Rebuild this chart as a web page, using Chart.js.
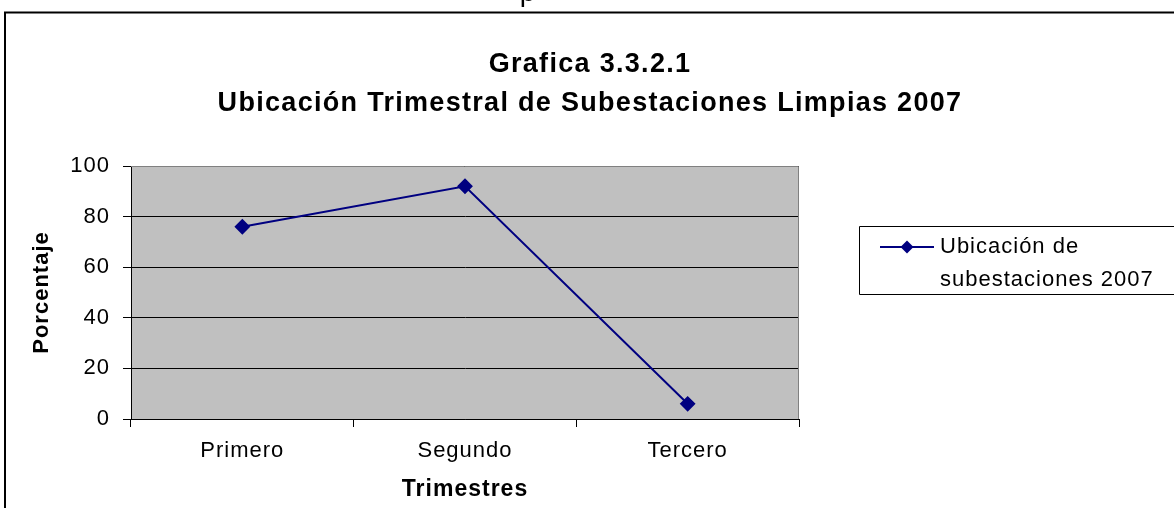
<!DOCTYPE html>
<html>
<head>
<meta charset="utf-8">
<script src="https://cdn.jsdelivr.net/npm/chart.js@4"></script>
<style>
  html, body { margin: 0; padding: 0; background: #fff; }
  #wrap { width: 1174px; height: 508px; position: relative; }
</style>
</head>
<body>
<div id="wrap"><canvas id="chart" width="1174" height="508"></canvas></div>
<script>
const categories = ['Primero', 'Segundo', 'Tercero'];
const values = [76, 92, 6];
const seriesName = ['Ubicación de', 'subestaciones 2007'];
const titleLines = ['Grafica 3.3.2.1', 'Ubicación Trimestral de Subestaciones Limpias 2007'];

const FONT = 'Arial, "Liberation Sans", sans-serif';
const NAVY = '#000080';

// the old chart text is drawn a little wider than Liberation Sans
const spacing = {
  id: 'spacing',
  beforeLayout(chart) { chart.ctx.letterSpacing = '1px'; },
  beforeDraw(chart) { chart.ctx.letterSpacing = '1px'; }
};

// frame, plot background, titles, legend
const decor = {
  id: 'decor',
  beforeDraw(chart) {
    const { ctx, chartArea: a } = chart;
    ctx.save();
    ctx.fillStyle = '#c0c0c0';
    ctx.fillRect(a.left, a.top, a.right - a.left, a.bottom - a.top);
    // outer frame
    ctx.strokeStyle = '#000';
    ctx.lineWidth = 2;
    ctx.beginPath();
    ctx.moveTo(5, 510);
    ctx.lineTo(5, 12.5);
    ctx.lineTo(1180, 12.5);
    ctx.stroke();
    // cut text at top
    ctx.fillStyle = '#000';
    ctx.font = '28px ' + FONT;
    ctx.textAlign = 'center';
    ctx.fillText('p', 528, 1);
    // title
    ctx.letterSpacing = '1.3px';
    ctx.font = 'bold 27px ' + FONT;
    ctx.textBaseline = 'alphabetic';
    ctx.fillText(titleLines[0], 590, 72);
    ctx.fillText(titleLines[1], 590, 111);
    ctx.restore();
  },
  afterDatasetsDraw(chart) {
    const { ctx, chartArea: a } = chart;
    ctx.save();
    // plot border (gray, top/right)
    ctx.strokeStyle = '#808080';
    ctx.lineWidth = 1;
    ctx.beginPath();
    ctx.moveTo(a.left, a.top + 0.5);
    ctx.lineTo(a.right - 0.5, a.top + 0.5);
    ctx.lineTo(a.right - 0.5, a.bottom);
    ctx.stroke();
    // legend
    const lx = 859.5, ly = 226.5;
    ctx.strokeStyle = '#000';
    ctx.beginPath();
    ctx.moveTo(1180, ly);
    ctx.lineTo(lx, ly);
    ctx.lineTo(lx, 294.5);
    ctx.lineTo(1180, 294.5);
    ctx.stroke();
    ctx.strokeStyle = NAVY;
    ctx.lineWidth = 2;
    ctx.beginPath();
    ctx.moveTo(880, 247);
    ctx.lineTo(934, 247);
    ctx.stroke();
    ctx.fillStyle = NAVY;
    ctx.beginPath();
    ctx.moveTo(907, 240.5);
    ctx.lineTo(913.5, 247);
    ctx.lineTo(907, 253.5);
    ctx.lineTo(900.5, 247);
    ctx.closePath();
    ctx.fill();
    ctx.fillStyle = '#000';
    ctx.font = '22px ' + FONT;
    ctx.textAlign = 'left';
    ctx.textBaseline = 'middle';
    ctx.fillText(seriesName[0], 940, 247);
    ctx.fillText(seriesName[1], 940, 280);
    ctx.restore();
  }
};

new Chart(document.getElementById('chart'), {
  type: 'line',
  data: {
    labels: categories,
    datasets: [{
      label: seriesName.join(' '),
      data: values,
      borderColor: NAVY,
      backgroundColor: NAVY,
      borderWidth: 2,
      pointStyle: 'rectRot',
      pointRadius: 6.5,
      pointHoverRadius: 6.5,
      tension: 0
    }]
  },
  options: {
    responsive: false,
    animation: false,
    layout: { padding: { left: 8, right: 375, top: 166, bottom: 0 } },
    plugins: {
      legend: { display: false },
      tooltip: { enabled: false },
      title: { display: false }
    },
    scales: {
      x: {
        offset: true,
        grid: { offset: true, color: '#000', drawOnChartArea: false, tickLength: 8, tickColor: '#000' },
        border: { color: '#000', width: 1 },
        ticks: { color: '#000', font: { family: FONT, size: 22 }, padding: 11 },
        title: { display: true, text: 'Trimestres', color: '#000', font: { family: FONT, size: 23, weight: 'bold' }, padding: { top: 2, bottom: 5 } },
        afterFit(s) { s.height = 89; }
      },
      y: {
        min: 0,
        max: 100,
        ticks: { stepSize: 20, color: '#000', font: { family: FONT, size: 22 }, padding: 13 },
        grid: { color: '#000', tickLength: 8, tickColor: '#000' },
        border: { color: '#000', width: 1 },
        title: { display: true, text: 'Porcentaje', color: '#000', font: { family: FONT, size: 22, weight: 'bold' }, padding: { top: 21, bottom: 10 } },
        afterFit(s) { s.width = 123; }
      }
    }
  },
  plugins: [spacing, decor]
});
</script>
</body>
</html>
